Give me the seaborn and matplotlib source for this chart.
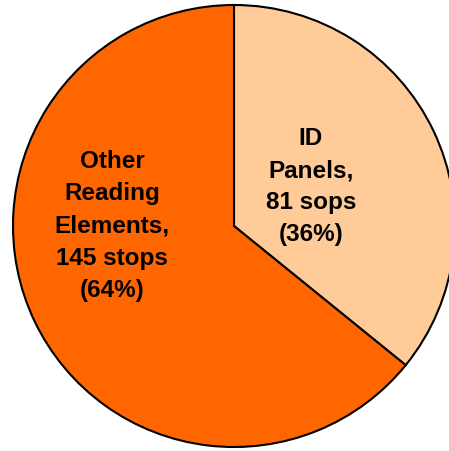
import matplotlib
matplotlib.use("Agg")
import matplotlib.pyplot as plt
import seaborn as sns
import numpy as np

categories = ["ID\nPanels,\n81 sops\n(36%)", "Other\nReading\nElements,\n145 stops\n(64%)"]
values = [81, 145]
colors = ["#FFCC99", "#FF6600"]

sns.set_theme(style="white")
plt.rcParams['font.family'] = ['Liberation Sans', 'DejaVu Sans']

fig = plt.figure(figsize=(4.49, 4.51), dpi=100)
ax = fig.add_axes([0, 0, 1, 1])
cx, cy, r = 234, 225, 221
ax.pie(values, colors=colors, startangle=90, counterclock=False,
       center=(cx, cy), radius=r,
       wedgeprops=dict(edgecolor="black", linewidth=1.5))
ax.set_xlim(0, 449)
ax.set_ylim(0, 451)
ax.set_aspect("equal")
ax.axis("off")

# label positions (fraction of radius, angle in degrees)
label_pos = [(0.39, 27), (0.552, 180)]
for text, (f, ang) in zip(categories, label_pos):
    a = np.deg2rad(ang)
    ax.text(cx + f * r * np.cos(a), cy + f * r * np.sin(a), text,
            ha="center", va="center", fontsize=17.5, fontweight="bold",
            linespacing=1.5, color="black")

fig.savefig("out.png", dpi=100)
